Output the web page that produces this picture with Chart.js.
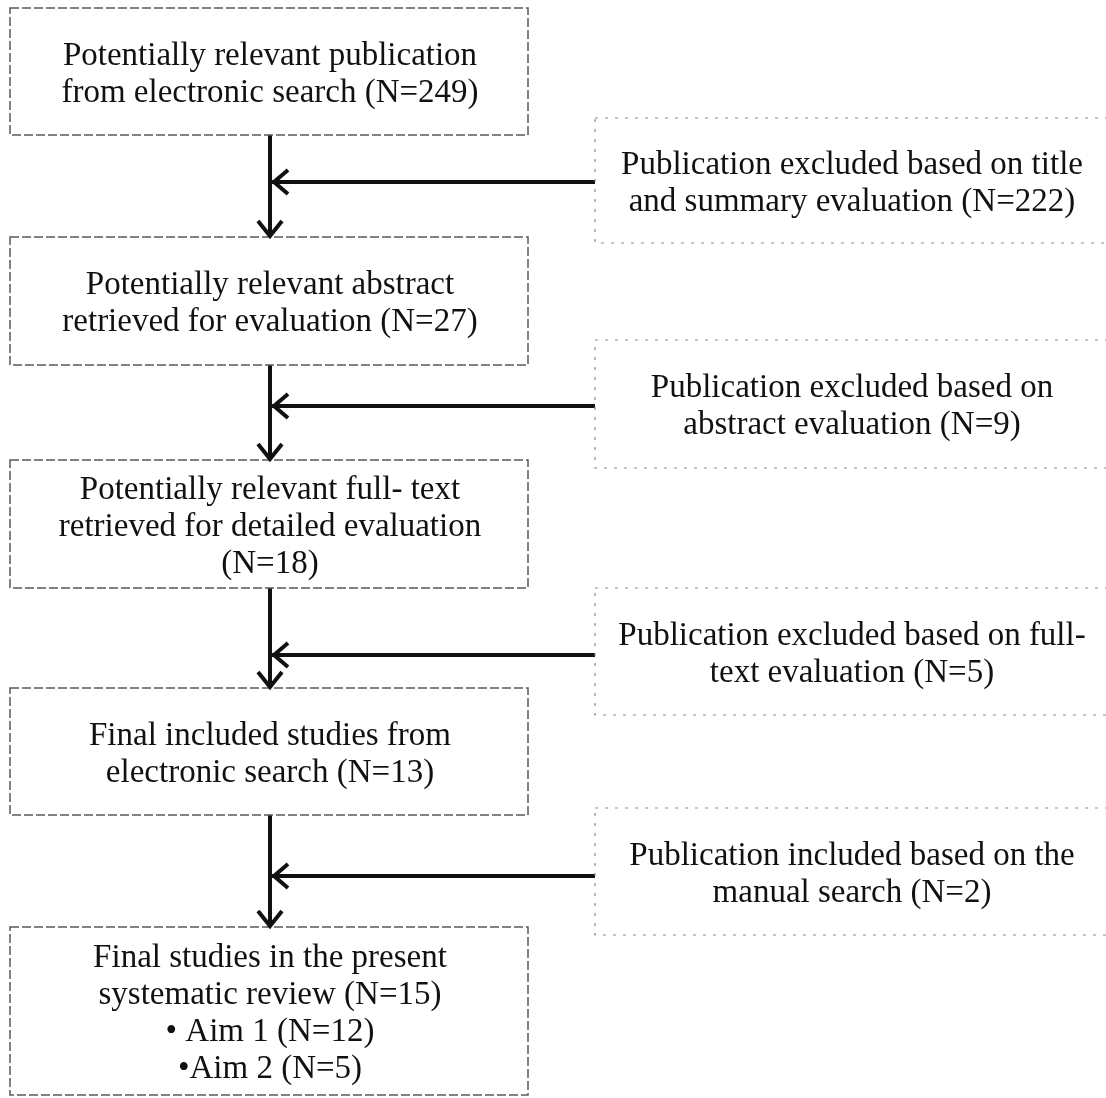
<!DOCTYPE html>
<html>
<head>
    <title>Study selection flow</title>
    <script src="https://cdn.jsdelivr.net/npm/chart.js@4.4.2/dist/chart.umd.min.js"></script>
    <style>
        body {
            margin: 0;
            background: #fff;
        }

        #flow {
            display: block;
        }
    </style>
</head>

<body>
    <canvas id="flow" width="1106" height="1098"></canvas>
    <script>
        // counts
        var stepCounts = [249, 27, 18, 13, 15];
        var sideCounts = [222, 9, 5, 2];
        var aimCounts = [12, 5];

        var stepLabels = [
            ["Potentially relevant publication", "from electronic search (N=" + stepCounts[0] + ")"],
            ["Potentially relevant abstract", "retrieved for evaluation (N=" + stepCounts[1] + ")"],
            ["Potentially relevant full- text", "retrieved for detailed evaluation", "(N=" + stepCounts[2] + ")"],
            ["Final included studies from", "electronic search (N=" + stepCounts[3] + ")"],
            ["Final studies in the present", "systematic review (N=" + stepCounts[4] + ")",
                "\u2022 Aim 1 (N=" + aimCounts[0] + ")", "\u2022Aim 2 (N=" + aimCounts[1] + ")"]
        ];
        var sideLabels = [
            ["Publication excluded based on title", "and summary evaluation (N=" + sideCounts[0] + ")"],
            ["Publication excluded based on", "abstract evaluation (N=" + sideCounts[1] + ")"],
            ["Publication excluded based on full-", "text evaluation (N=" + sideCounts[2] + ")"],
            ["Publication included based on the", "manual search (N=" + sideCounts[3] + ")"]
        ];

        // layout in page pixels
        var mainX = [10, 528];
        var sideX = [595, 1112];
        var stepY = [[8, 135], [237, 365], [460, 588], [688, 815], [927, 1095]];
        var sideY = [[118, 243], [340, 468], [588, 715], [808, 935]];
        var arrowX = 270;
        var joinY = [182, 406, 655, 876];

        var FONT = '33px "Liberation Serif", "DejaVu Serif", serif';
        var LINE_H = 37;

        // connectors as line datasets
        var datasets = [];
        for (var i = 0; i < stepY.length - 1; i++) {
            datasets.push({
                data: [{ x: arrowX, y: stepY[i][1] }, { x: arrowX, y: stepY[i + 1][0] }],
                kind: 'down'
            });
        }
        for (var j = 0; j < joinY.length; j++) {
            datasets.push({
                data: [{ x: sideX[0], y: joinY[j] }, { x: arrowX + 2, y: joinY[j] }],
                kind: 'left'
            });
        }
        datasets.forEach(function (d) {
            d.showLine = true;
            d.borderColor = '#111';
            d.borderWidth = 4;
            d.pointRadius = 0;
            d.fill = false;
        });

        function chevron(ctx, x, y, dir) {
            ctx.save();
            ctx.strokeStyle = '#111';
            ctx.lineWidth = 4;
            ctx.beginPath();
            if (dir === 'down') {
                ctx.moveTo(x - 12, y - 16);
                ctx.lineTo(x, y - 1);
                ctx.lineTo(x + 12, y - 16);
            } else {
                ctx.moveTo(x + 16, y - 12);
                ctx.lineTo(x + 2, y);
                ctx.lineTo(x + 16, y + 12);
            }
            ctx.stroke();
            ctx.restore();
        }

        function drawBox(ctx, sx, sy, xr, yr, lines, light) {
            var x0 = sx.getPixelForValue(xr[0]), x1 = sx.getPixelForValue(xr[1]);
            var y0 = sy.getPixelForValue(yr[0]), y1 = sy.getPixelForValue(yr[1]);
            ctx.save();
            ctx.strokeStyle = light ? '#8a8a8a' : '#5a5a5a';
            ctx.lineWidth = light ? 1.2 : 1.5;
            ctx.setLineDash(light ? [3, 7] : [9, 3]);
            ctx.strokeRect(x0, y0, x1 - x0, y1 - y0);
            ctx.setLineDash([]);
            ctx.fillStyle = '#111';
            ctx.font = FONT;
            ctx.textAlign = 'center';
            ctx.textBaseline = 'middle';
            var cx = light ? sx.getPixelForValue(852) : sx.getPixelForValue(arrowX);
            var cy = (y0 + y1) / 2 + 3;
            var start = cy - (lines.length - 1) * LINE_H / 2;
            lines.forEach(function (t, k) {
                ctx.fillText(t, cx, start + k * LINE_H);
            });
            ctx.restore();
        }

        var flowPlugin = {
            id: 'flowBoxes',
            afterDatasetsDraw: function (chart) {
                var ctx = chart.ctx, sx = chart.scales.x, sy = chart.scales.y;
                stepLabels.forEach(function (lines, k) {
                    drawBox(ctx, sx, sy, mainX, stepY[k], lines, false);
                });
                sideLabels.forEach(function (lines, k) {
                    drawBox(ctx, sx, sy, sideX, sideY[k], lines, true);
                });
                chart.data.datasets.forEach(function (d) {
                    var end = d.data[1];
                    chevron(ctx, sx.getPixelForValue(end.x), sy.getPixelForValue(end.y), d.kind);
                });
            }
        };

        new Chart(document.getElementById('flow'), {
            type: 'scatter',
            data: { datasets: datasets },
            options: {
                responsive: false,
                animation: false,
                layout: { padding: 0 },
                plugins: { legend: { display: false }, tooltip: { enabled: false } },
                scales: {
                    x: { type: 'linear', min: 0, max: 1106, display: false },
                    y: { type: 'linear', min: 0, max: 1098, reverse: true, display: false }
                }
            },
            plugins: [flowPlugin]
        });
    </script>
</body>

</html>
